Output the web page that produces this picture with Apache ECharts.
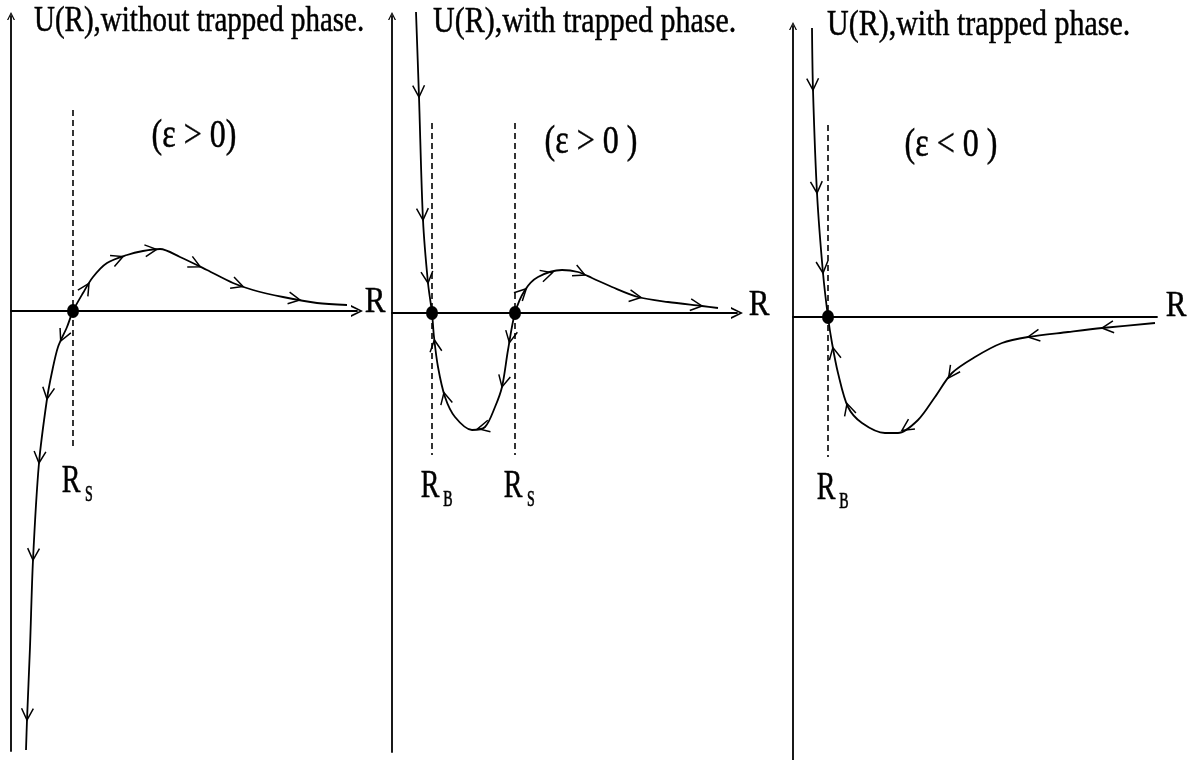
<!DOCTYPE html>
<html>
<head>
<meta charset="utf-8">
<script src="https://cdn.jsdelivr.net/npm/echarts@6/dist/echarts.min.js"></script>
<style>html,body{margin:0;padding:0;background:#fff}#c{width:1192px;height:760px}</style>
</head>
<body>
<div id="c"></div>
<script>
// ---------------- DATA (arbitrary units, R to the right, U upward) ----------------
// Panel 1: U(R), without trapped phase (eps > 0)
const p1R = [15, 16, 19, 22, 28, 36, 41, 47, 56, 62, 72, 82, 96, 116, 132, 149, 169, 196, 222, 242, 272, 306, 336];
const p1U = [-439, -409, -336, -249, -152, -88, -61, -36, -16, 0, 18, 34, 48, 56, 60, 62, 54, 41, 28, 21, 14, 8, 6];
const p1ArrowAt  = [7.3, 5, 4, 3, 1, 10.6, 12.8, 14.8, 16.75, 18.5, 20.5];
const p1ArrowDir = [-1, -1, -1, -1, -1, 1, 1, 1, 1, 1, 1];
const p1Fixed = [62];
const p1FixedSub = ['S'];
const p1Dash = [201, -139];

// Panel 2: U(R), with trapped phase (eps > 0)
const p2R = [24, 27, 31, 36, 40, 42, 46, 53, 63, 80, 93, 103, 110, 116, 123, 133, 146, 170, 186, 200, 220, 246, 276, 310, 326];
const p2U = [301, 216, 93, 30, 0, -24, -54, -84, -104, -117, -114, -94, -74, -37, 0, 23, 36, 43, 41, 35, 26, 16, 11, 7, 5];
const p2ArrowAt  = [1, 2, 3, 5.1, 6.85, 9.45, 12, 13.2, 15.1, 16.6, 18.5, 21.1, 23];
const p2ArrowDir = [1, 1, 1, -1, -1, -1, -1, -1, 1, 1, 1, 1, 1];
const p2Fixed = [40, 123];
const p2FixedSub = ['B', 'S'];
const p2Dash = [190, -142];

// Panel 3: U(R), with trapped phase (eps < 0)
const p3R = [19, 20, 24, 30, 35, 39, 45, 55, 69, 92, 105, 125, 142, 159, 182, 209, 235, 275, 309, 362];
const p3U = [289, 227, 124, 44, 0, -26, -56, -90, -106, -116, -116, -103, -80, -56, -40, -26, -20, -15, -11, -6];
const p3ArrowAt  = [1, 2, 3, 5.15, 6.9, 10.2, 12.8, 16, 18];
const p3ArrowDir = [1, 1, 1, -1, -1, -1, -1, -1, -1];
const p3Fixed = [35];
const p3FixedSub = ['B'];
const p3Dash = [192, -140];

// axis ranges
const panelXMax = [346, 345, 364];
const panelYMin = [-440, -439, -443];
const panelYMax = [295, 297, 291];
const panelXArrow = [true, true, false];

// texts
const titles = ['U(R),without trapped phase.', 'U(R),with trapped phase.', 'U(R),with trapped phase.'];
const epsLabels = ['(\u03B5 > 0)', '(\u03B5 > 0 )', '(\u03B5 < 0 )'];
const axisName = 'R';

// ---------------- LAYOUT ----------------
const grids = [
  {left: 11, top: 16, width: 346, height: 735},
  {left: 392, top: 16, width: 345, height: 736},
  {left: 793, top: 26, width: 364, height: 734}
];
const titlePos = [[34, 22, 29], [433, 22, 30], [827, 25, 30]];
const epsPos = [[194, 137], [591, 143], [951, 146]];
const rNameOffset = [[18, -8], [22, -7], [19, -10]];

const panels = [
  {R: p1R, U: p1U, at: p1ArrowAt, dir: p1ArrowDir, fixed: p1Fixed, sub: p1FixedSub, dash: p1Dash},
  {R: p2R, U: p2U, at: p2ArrowAt, dir: p2ArrowDir, fixed: p2Fixed, sub: p2FixedSub, dash: p2Dash},
  {R: p3R, U: p3U, at: p3ArrowAt, dir: p3ArrowDir, fixed: p3Fixed, sub: p3FixedSub, dash: p3Dash}
];

const ARROW = 'path://M0,10 L5,0 L10,10 L8.3,10 L5,2.8 L1.7,10 Z';
const FONT = '"Liberation Serif", "Times New Roman", serif';

function pointAt(curve, t) {
  const i0 = Math.floor(t), i1 = Math.ceil(t);
  if (i0 === i1) return curve[i0].slice();
  const f = t - i0, a = curve[i0], b = curve[i1];
  return [a[0] + (b[0] - a[0]) * f, a[1] + (b[1] - a[1]) * f];
}

function arrowRender(curve) {
  return function (params, api) {
    const t = api.value(2), dir = api.value(3);
    const i0 = Math.floor(t), i1 = Math.ceil(t);
    let a, b;
    if (i0 === i1) {
      a = curve[Math.max(i0 - 1, 0)];
      b = curve[Math.min(i0 + 1, curve.length - 1)];
    } else { a = curve[i0]; b = curve[i1]; }
    const pa = api.coord(a), pb = api.coord(b), pt = api.coord(pointAt(curve, t));
    let dx = (pb[0] - pa[0]) * dir, dy = (pb[1] - pa[1]) * dir;
    const len = Math.hypot(dx, dy) || 1; dx /= len; dy /= len;
    const L = 13, ang = 27 * Math.PI / 180, c = Math.cos(ang), s = Math.sin(ang);
    const bx = -dx, by = -dy;
    const q1 = [pt[0] + L * (bx * c - by * s), pt[1] + L * (bx * s + by * c)];
    const q2 = [pt[0] + L * (bx * c + by * s), pt[1] + L * (-bx * s + by * c)];
    return {type: 'polyline', shape: {points: [q1, pt, q2]},
            style: {stroke: '#000', lineWidth: 1.5, fill: null}};
  };
}

const xAxes = [], yAxes = [], series = [];
panels.forEach(function (p, k) {
  const curve = p.R.map(function (r, i) { return [r, p.U[i]]; });
  xAxes.push({
    gridIndex: k, type: 'value', min: 0, max: panelXMax[k],
    axisLine: {show: true, onZero: true, lineStyle: {color: '#000', width: 1.8},
               symbol: panelXArrow[k] ? ['none', ARROW] : ['none', 'none'], symbolSize: [12, 13]},
    axisTick: {show: false}, axisLabel: {show: false}, splitLine: {show: false}
  });
  yAxes.push({
    gridIndex: k, type: 'value', min: panelYMin[k], max: panelYMax[k],
    axisLine: {show: true, onZero: true, lineStyle: {color: '#000', width: 1.8},
               symbol: ['none', ARROW], symbolSize: [8, 11]},
    axisTick: {show: false}, axisLabel: {show: false}, splitLine: {show: false}
  });
  series.push({
    type: 'line', xAxisIndex: k, yAxisIndex: k, data: curve, smooth: 0.3,
    showSymbol: false, clip: false, lineStyle: {color: '#000', width: 1.8}, z: 3, silent: true
  });
  p.fixed.forEach(function (r) {
    series.push({
      type: 'line', xAxisIndex: k, yAxisIndex: k, data: [[r, p.dash[0]], [r, p.dash[1]]],
      showSymbol: false, lineStyle: {color: '#000', width: 1.6, type: [6, 4]}, z: 2, silent: true
    });
  });
  series.push({
    type: 'scatter', xAxisIndex: k, yAxisIndex: k,
    data: p.fixed.map(function (r) { return [r, 0]; }),
    symbol: 'circle', symbolSize: [12, 14], itemStyle: {color: '#000', opacity: 1}, z: 6, silent: true
  });
  series.push({
    type: 'custom', xAxisIndex: k, yAxisIndex: k,
    data: p.at.map(function (t, j) { const q = pointAt(curve, t); return [q[0], q[1], t, p.dir[j]]; }),
    encode: {x: 0, y: 1}, renderItem: arrowRender(curve), z: 4, silent: true
  });
});

const chart = echarts.init(document.getElementById('c'), null, {renderer: 'canvas'});
chart.setOption({
  animation: false,
  backgroundColor: '#fff',
  grid: grids,
  xAxis: xAxes,
  yAxis: yAxes,
  series: series
});

// ---------------- TEXTS ----------------
function txt(x, y, text, size, sy, align) {
  return {
    type: 'text', x: x, y: y, scaleY: sy, z: 10, silent: true,
    style: {text: text, font: 'normal ' + size + 'px ' + FONT, fill: '#000',
            stroke: '#000', lineWidth: 0.4,
            align: align, textAlign: align, verticalAlign: 'middle', textVerticalAlign: 'middle'}
  };
}
const g = [];
titles.forEach(function (t, k) {
  g.push(txt(titlePos[k][0], titlePos[k][1], t, titlePos[k][2], 1.22, 'left'));
  g.push(txt(epsPos[k][0], epsPos[k][1], epsLabels[k], 32, 1.22, 'center'));
  const end = chart.convertToPixel({gridIndex: k}, [panelXMax[k], 0]);
  g.push(txt(end[0] + rNameOffset[k][0], end[1] + rNameOffset[k][1], axisName, 31, 1.15, 'center'));
  const p = panels[k];
  p.fixed.forEach(function (r, j) {
    const b = chart.convertToPixel({gridIndex: k}, [r, p.dash[1]]);
    g.push(txt(b[0] - 2, b[1] + 32, 'R', 28, 1.4, 'center'));
    g.push(txt(b[0] + 16, b[1] + 45, p.sub[j], 14, 1.6, 'center'));
  });
});
chart.setOption({graphic: {elements: g}});
</script>
</body>
</html>
